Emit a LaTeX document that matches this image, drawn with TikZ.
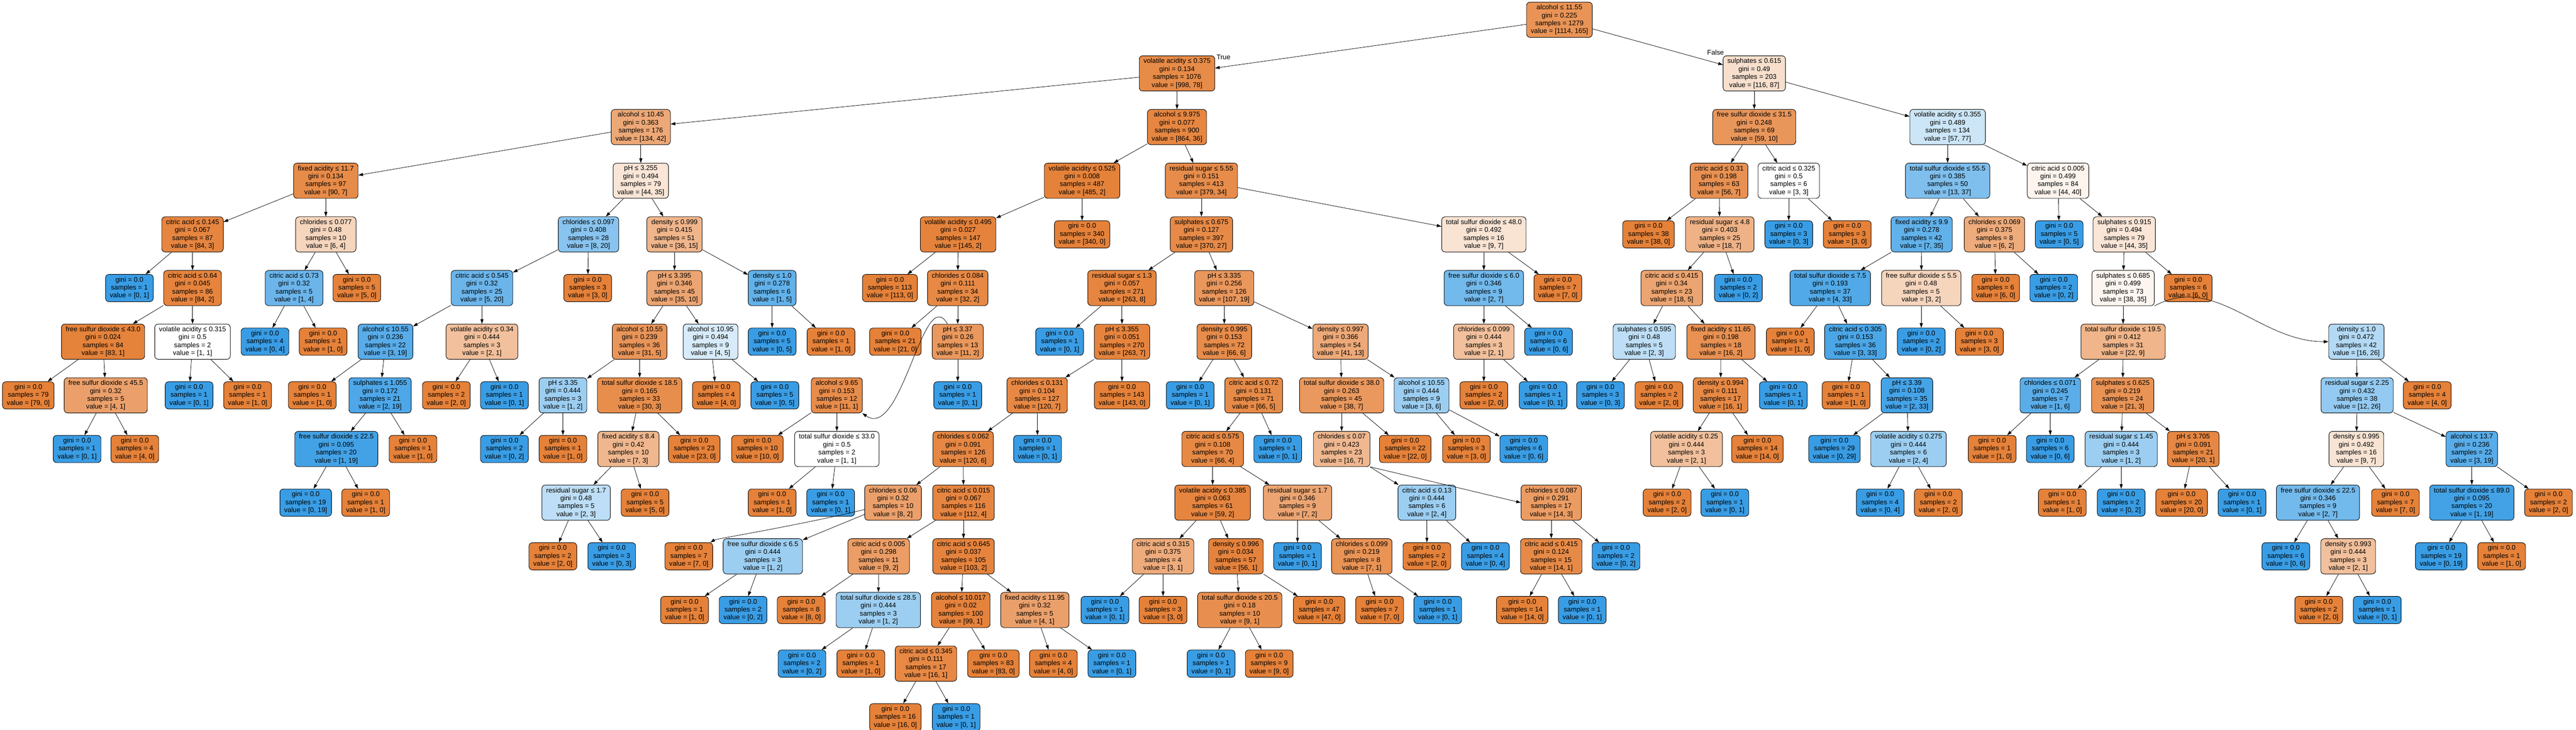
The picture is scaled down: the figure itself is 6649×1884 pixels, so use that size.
\documentclass[tikz,border=0pt]{standalone}
\usepackage{fontspec}
\setmainfont{Liberation Sans}
\usetikzlibrary{arrows.meta}
\definecolor{cO}{RGB}{229,129,57}
\definecolor{cB}{RGB}{57,157,229}
\tikzset{
  tn/.style={draw=black, line width=1.2pt, rounded corners=9pt, align=center,
    font=\fontsize{17.6}{20.5}\selectfont, inner xsep=11pt, inner ysep=6.5pt},
  ed/.style={draw=black, line width=1pt, -{Triangle[length=12pt,width=8pt]}},
  lab/.style={font=\fontsize{17.6}{20.5}\selectfont, inner sep=0pt}
}
\newcommand\setfill[2]{%
  \ifnum#1<#2\relax\def\cc{cB}\pgfmathsetmacro\al{100*(1-#1/#2)}%
  \else\def\cc{cO}\pgfmathsetmacro\al{100*(1-#2/#1)}\fi
  \colorlet{tmpfill}{\cc!\al!white}}
\newcommand\dn[8]{\setfill{#7}{#8}%
  \node[tn, fill=tmpfill] (#1) at (#2,{51+138.5*#3}) {#4\\gini = #5\\samples = #6\\value = [#7, #8]};}
\newcommand\lf[6]{\setfill{#5}{#6}%
  \node[tn, fill=tmpfill] (#1) at (#2,{51+138.5*#3}) {gini = 0.0\\samples = #4\\value = [#5, #6]};}
\begin{document}
\begin{tikzpicture}[x=1pt,y=-1pt]
\useasboundingbox (0,0) rectangle (6649,1884);
\fill[white] (0,0) rectangle (6649,1884);
% level 0
\dn{n0}{4025}{0}{alcohol ≤ 11.55}{0.225}{1279}{1114}{165}
% level 1
\dn{n1}{3038}{1}{volatile acidity ≤ 0.375}{0.134}{1076}{998}{78}
\dn{n2}{4528}{1}{sulphates ≤ 0.615}{0.49}{203}{116}{87}
% level 2
\dn{n3}{1654}{2}{alcohol ≤ 10.45}{0.363}{176}{134}{42}
\dn{n4}{3038}{2}{alcohol ≤ 9.975}{0.077}{900}{864}{36}
\dn{n5}{4528}{2}{free sulfur dioxide ≤ 31.5}{0.248}{69}{59}{10}
\dn{n6}{5027}{2}{volatile acidity ≤ 0.355}{0.489}{134}{57}{77}
% level 3
\dn{n7}{841}{3}{fixed acidity ≤ 11.7}{0.134}{97}{90}{7}
\dn{n8}{1654}{3}{pH ≤ 3.255}{0.494}{79}{44}{35}
\dn{n9}{2793}{3}{volatile acidity ≤ 0.525}{0.008}{487}{485}{2}
\dn{n10}{3101}{3}{residual sugar ≤ 5.55}{0.151}{413}{379}{34}
\dn{n11}{4437}{3}{citric acid ≤ 0.31}{0.198}{63}{56}{7}
\dn{n12}{4617}{3}{citric acid ≤ 0.325}{0.5}{6}{3}{3}
\dn{n13}{5027}{3}{total sulfur dioxide ≤ 55.5}{0.385}{50}{13}{37}
\dn{n14}{5312}{3}{citric acid ≤ 0.005}{0.499}{84}{44}{40}
% level 4
\dn{n15}{497}{4}{citric acid ≤ 0.145}{0.067}{87}{84}{3}
\dn{n16}{841}{4}{chlorides ≤ 0.077}{0.48}{10}{6}{4}
\dn{n17}{1519}{4}{chlorides ≤ 0.097}{0.408}{28}{8}{20}
\dn{n18}{1741}{4}{density ≤ 0.999}{0.415}{51}{36}{15}
\dn{n19}{2473}{4}{volatile acidity ≤ 0.495}{0.027}{147}{145}{2}
\lf{n20}{2793}{4}{340}{340}{0}
\dn{n21}{3101}{4}{sulphates ≤ 0.675}{0.127}{397}{370}{27}
\dn{n22}{3830}{4}{total sulfur dioxide ≤ 48.0}{0.492}{16}{9}{7}
\lf{n23}{4255}{4}{38}{38}{0}
\dn{n24}{4439}{4}{residual sugar ≤ 4.8}{0.403}{25}{18}{7}
\lf{n25}{4617}{4}{3}{0}{3}
\lf{n26}{4768}{4}{3}{3}{0}
\dn{n27}{4960}{4}{fixed acidity ≤ 9.9}{0.278}{42}{7}{35}
\dn{n28}{5148}{4}{chlorides ≤ 0.069}{0.375}{8}{6}{2}
\lf{n29}{5315}{4}{5}{0}{5}
\dn{n30}{5483}{4}{sulphates ≤ 0.915}{0.494}{79}{44}{35}
% level 5
\lf{n31}{334}{5}{1}{0}{1}
\dn{n32}{497}{5}{citric acid ≤ 0.64}{0.045}{86}{84}{2}
\dn{n33}{759}{5}{citric acid ≤ 0.73}{0.32}{5}{1}{4}
\lf{n34}{921}{5}{5}{5}{0}
\dn{n35}{1244}{5}{citric acid ≤ 0.545}{0.32}{25}{5}{20}
\lf{n36}{1517}{5}{3}{3}{0}
\dn{n37}{1741}{5}{pH ≤ 3.395}{0.346}{45}{35}{10}
\dn{n38}{1993}{5}{density ≤ 1.0}{0.278}{6}{1}{5}
\lf{n39}{2297}{5}{113}{113}{0}
\dn{n40}{2472}{5}{chlorides ≤ 0.084}{0.111}{34}{32}{2}
\dn{n41}{2896}{5}{residual sugar ≤ 1.3}{0.057}{271}{263}{8}
\dn{n42}{3160}{5}{pH ≤ 3.335}{0.256}{126}{107}{19}
\dn{n43}{3830}{5}{free sulfur dioxide ≤ 6.0}{0.346}{9}{2}{7}
\lf{n44}{4021}{5}{7}{7}{0}
\dn{n45}{4315}{5}{citric acid ≤ 0.415}{0.34}{23}{18}{5}
\lf{n46}{4487}{5}{2}{0}{2}
\dn{n47}{4724}{5}{total sulfur dioxide ≤ 7.5}{0.193}{37}{4}{33}
\dn{n48}{4959}{5}{free sulfur dioxide ≤ 5.5}{0.48}{5}{3}{2}
\lf{n49}{5151}{5}{6}{6}{0}
\lf{n50}{5301}{5}{2}{0}{2}
\dn{n51}{5480}{5}{sulphates ≤ 0.685}{0.499}{73}{38}{35}
\lf{n52}{5648}{5}{6}{6}{0}
% level 6
\dn{n53}{266}{6}{free sulfur dioxide ≤ 43.0}{0.024}{84}{83}{1}
\dn{n54}{497}{6}{volatile acidity ≤ 0.315}{0.5}{2}{1}{1}
\lf{n55}{684}{6}{4}{0}{4}
\lf{n56}{834}{6}{1}{1}{0}
\dn{n57}{995}{6}{alcohol ≤ 10.55}{0.236}{22}{3}{19}
\dn{n58}{1244}{6}{volatile acidity ≤ 0.34}{0.444}{3}{2}{1}
\dn{n59}{1651}{6}{alcohol ≤ 10.55}{0.239}{36}{31}{5}
\dn{n60}{1834}{6}{alcohol ≤ 10.95}{0.494}{9}{4}{5}
\lf{n61}{1993}{6}{5}{0}{5}
\lf{n62}{2145}{6}{1}{1}{0}
\lf{n63}{2311}{6}{21}{21}{0}
\dn{n64}{2472}{6}{pH ≤ 3.37}{0.26}{13}{11}{2}
\lf{n65}{2735}{6}{1}{0}{1}
\dn{n66}{2896}{6}{pH ≤ 3.355}{0.051}{270}{263}{7}
\dn{n67}{3160}{6}{density ≤ 0.995}{0.153}{72}{66}{6}
\dn{n68}{3460}{6}{density ≤ 0.997}{0.366}{54}{41}{13}
\dn{n69}{3830}{6}{chlorides ≤ 0.099}{0.444}{3}{2}{1}
\lf{n70}{3997}{6}{6}{0}{6}
\dn{n71}{4244}{6}{sulphates ≤ 0.595}{0.48}{5}{2}{3}
\dn{n72}{4442}{6}{fixed acidity ≤ 11.65}{0.198}{18}{16}{2}
\lf{n73}{4621}{6}{1}{1}{0}
\dn{n74}{4789}{6}{citric acid ≤ 0.305}{0.153}{36}{3}{33}
\lf{n75}{4959}{6}{2}{0}{2}
\lf{n76}{5109}{6}{3}{3}{0}
\dn{n77}{5480}{6}{total sulfur dioxide ≤ 19.5}{0.412}{31}{22}{9}
\dn{n78}{6082}{6}{density ≤ 1.0}{0.472}{42}{16}{26}
% level 7
\lf{n79}{73}{7}{79}{79}{0}
\dn{n80}{273}{7}{free sulfur dioxide ≤ 45.5}{0.32}{5}{4}{1}
\lf{n81}{488}{7}{1}{0}{1}
\lf{n82}{639}{7}{1}{1}{0}
\lf{n83}{806}{7}{1}{1}{0}
\dn{n84}{981}{7}{sulphates ≤ 1.055}{0.172}{21}{2}{19}
\lf{n85}{1152}{7}{2}{2}{0}
\lf{n86}{1302}{7}{1}{0}{1}
\dn{n87}{1453}{7}{pH ≤ 3.35}{0.444}{3}{1}{2}
\dn{n88}{1651}{7}{total sulfur dioxide ≤ 18.5}{0.165}{33}{30}{3}
\lf{n89}{1849}{7}{4}{4}{0}
\lf{n90}{2000}{7}{5}{0}{5}
\dn{n91}{2160}{7}{alcohol ≤ 9.65}{0.153}{12}{11}{1}
\lf{n92}{2472}{7}{1}{0}{1}
\dn{n93}{2677}{7}{chlorides ≤ 0.131}{0.104}{127}{120}{7}
\lf{n94}{2896}{7}{143}{143}{0}
\lf{n95}{3072}{7}{1}{0}{1}
\dn{n96}{3236}{7}{citric acid ≤ 0.72}{0.131}{71}{66}{5}
\dn{n97}{3463}{7}{total sulfur dioxide ≤ 38.0}{0.263}{45}{38}{7}
\dn{n98}{3669}{7}{alcohol ≤ 10.55}{0.444}{9}{3}{6}
\lf{n99}{3830}{7}{2}{2}{0}
\lf{n100}{3983}{7}{1}{0}{1}
\lf{n101}{4131}{7}{3}{0}{3}
\lf{n102}{4282}{7}{2}{2}{0}
\dn{n103}{4441}{7}{density ≤ 0.994}{0.111}{17}{16}{1}
\lf{n104}{4603}{7}{1}{0}{1}
\lf{n105}{4765}{7}{1}{1}{0}
\dn{n106}{4922}{7}{pH ≤ 3.39}{0.108}{35}{2}{33}
\dn{n107}{5292}{7}{chlorides ≤ 0.071}{0.245}{7}{1}{6}
\dn{n108}{5479}{7}{sulphates ≤ 0.625}{0.219}{24}{21}{3}
\dn{n109}{6084}{7}{residual sugar ≤ 2.25}{0.432}{38}{12}{26}
\lf{n110}{6265}{7}{4}{4}{0}
% level 8
\lf{n111}{199}{8}{1}{0}{1}
\lf{n112}{348}{8}{4}{4}{0}
\dn{n113}{868}{8}{free sulfur dioxide ≤ 22.5}{0.095}{20}{1}{19}
\lf{n114}{1066}{8}{1}{1}{0}
\lf{n115}{1302}{8}{2}{0}{2}
\lf{n116}{1453}{8}{1}{1}{0}
\dn{n117}{1622}{8}{fixed acidity ≤ 8.4}{0.42}{10}{7}{3}
\lf{n118}{1792}{8}{23}{23}{0}
\lf{n119}{1955}{8}{10}{10}{0}
\dn{n120}{2160}{8}{total sulfur dioxide ≤ 33.0}{0.5}{2}{1}{1}
\dn{n121}{2486}{8}{chlorides ≤ 0.062}{0.091}{126}{120}{6}
\lf{n122}{2678}{8}{1}{0}{1}
\dn{n123}{3130}{8}{citric acid ≤ 0.575}{0.108}{70}{66}{4}
\lf{n124}{3298}{8}{1}{0}{1}
\dn{n125}{3463}{8}{chlorides ≤ 0.07}{0.423}{23}{16}{7}
\lf{n126}{3627}{8}{22}{22}{0}
\lf{n127}{3785}{8}{3}{3}{0}
\lf{n128}{3933}{8}{6}{0}{6}
\dn{n129}{4353}{8}{volatile acidity ≤ 0.25}{0.444}{3}{2}{1}
\lf{n130}{4536}{8}{14}{14}{0}
\lf{n131}{4735}{8}{29}{0}{29}
\dn{n132}{4926}{8}{volatile acidity ≤ 0.275}{0.444}{6}{2}{4}
\lf{n133}{5142}{8}{1}{1}{0}
\lf{n134}{5292}{8}{6}{0}{6}
\dn{n135}{5475}{8}{residual sugar ≤ 1.45}{0.444}{3}{1}{2}
\dn{n136}{5661}{8}{pH ≤ 3.705}{0.091}{21}{20}{1}
\dn{n137}{6082}{8}{density ≤ 0.995}{0.492}{16}{9}{7}
\dn{n138}{6380}{8}{alcohol ≤ 13.7}{0.236}{22}{3}{19}
% level 9
\lf{n139}{789}{9}{19}{0}{19}
\lf{n140}{944}{9}{1}{1}{0}
\dn{n141}{1487}{9}{residual sugar ≤ 1.7}{0.48}{5}{2}{3}
\lf{n142}{1665}{9}{5}{5}{0}
\lf{n143}{1993}{9}{1}{1}{0}
\lf{n144}{2144}{9}{1}{0}{1}
\dn{n145}{2305}{9}{chlorides ≤ 0.06}{0.32}{10}{8}{2}
\dn{n146}{2487}{9}{citric acid ≤ 0.015}{0.067}{116}{112}{4}
\dn{n147}{3130}{9}{volatile acidity ≤ 0.385}{0.063}{61}{59}{2}
\dn{n148}{3349}{9}{residual sugar ≤ 1.7}{0.346}{9}{7}{2}
\dn{n149}{3683}{9}{citric acid ≤ 0.13}{0.444}{6}{2}{4}
\dn{n150}{4004}{9}{chlorides ≤ 0.087}{0.291}{17}{14}{3}
\lf{n151}{4303}{9}{2}{2}{0}
\lf{n152}{4452}{9}{1}{0}{1}
\lf{n153}{4853}{9}{4}{0}{4}
\lf{n154}{5003}{9}{2}{2}{0}
\lf{n155}{5323}{9}{1}{1}{0}
\lf{n156}{5475}{9}{2}{0}{2}
\lf{n157}{5631}{9}{20}{20}{0}
\lf{n158}{5787}{9}{1}{0}{1}
\dn{n159}{5983}{9}{free sulfur dioxide ≤ 22.5}{0.346}{9}{2}{7}
\lf{n160}{6183}{9}{7}{7}{0}
\dn{n161}{6380}{9}{total sulfur dioxide ≤ 89.0}{0.095}{20}{1}{19}
\lf{n162}{6578}{9}{2}{2}{0}
% level 10
\lf{n163}{1427}{10}{2}{2}{0}
\lf{n164}{1579}{10}{3}{0}{3}
\lf{n165}{1778}{10}{7}{7}{0}
\dn{n166}{1969}{10}{free sulfur dioxide ≤ 6.5}{0.444}{3}{1}{2}
\dn{n167}{2268}{10}{citric acid ≤ 0.005}{0.298}{11}{9}{2}
\dn{n168}{2487}{10}{citric acid ≤ 0.645}{0.037}{105}{103}{2}
\dn{n169}{3002}{10}{citric acid ≤ 0.315}{0.375}{4}{3}{1}
\dn{n170}{3190}{10}{density ≤ 0.996}{0.034}{57}{56}{1}
\lf{n171}{3349}{10}{1}{0}{1}
\dn{n172}{3515}{10}{chlorides ≤ 0.099}{0.219}{8}{7}{1}
\lf{n173}{3683}{10}{2}{2}{0}
\lf{n174}{3834}{10}{4}{0}{4}
\dn{n175}{4004}{10}{citric acid ≤ 0.415}{0.124}{15}{14}{1}
\lf{n176}{4171}{10}{2}{0}{2}
\lf{n177}{5900}{10}{6}{0}{6}
\dn{n178}{6061}{10}{density ≤ 0.993}{0.444}{3}{2}{1}
\lf{n179}{6301}{10}{19}{0}{19}
\lf{n180}{6457}{10}{1}{1}{0}
% level 11
\lf{n181}{1767}{11}{1}{1}{0}
\lf{n182}{1918}{11}{2}{0}{2}
\lf{n183}{2068}{11}{8}{8}{0}
\dn{n184}{2267}{11}{total sulfur dioxide ≤ 28.5}{0.444}{3}{1}{2}
\dn{n185}{2480}{11}{alcohol ≤ 10.017}{0.02}{100}{99}{1}
\dn{n186}{2671}{11}{fixed acidity ≤ 11.95}{0.32}{5}{4}{1}
\lf{n187}{2852}{11}{1}{0}{1}
\lf{n188}{3002}{11}{3}{3}{0}
\dn{n189}{3200}{11}{total sulfur dioxide ≤ 20.5}{0.18}{10}{9}{1}
\lf{n190}{3405}{11}{47}{47}{0}
\lf{n191}{3561}{11}{7}{7}{0}
\lf{n192}{3711}{11}{1}{0}{1}
\lf{n193}{3929}{11}{14}{14}{0}
\lf{n194}{4084}{11}{1}{0}{1}
\lf{n195}{5985}{11}{2}{2}{0}
\lf{n196}{6136}{11}{1}{0}{1}
% level 12
\lf{n197}{2070}{12}{2}{0}{2}
\lf{n198}{2222}{12}{1}{1}{0}
\dn{n199}{2390}{12}{citric acid ≤ 0.345}{0.111}{17}{16}{1}
\lf{n200}{2564}{12}{83}{83}{0}
\lf{n201}{2719}{12}{4}{4}{0}
\lf{n202}{2870}{12}{1}{0}{1}
\lf{n203}{3126}{12}{1}{0}{1}
\lf{n204}{3276}{12}{9}{9}{0}
% level 13
\lf{n205}{2311}{13}{16}{16}{0}
\lf{n206}{2468}{13}{1}{0}{1}
% edge labels
\node[lab] (tT) at (3158,147) {True};
\node[lab] (tF) at (4428,135) {False};
% edges
\foreach \a/\b in {n0/n1,n0/n2,n1/n3,n1/n4,n2/n5,n2/n6,n3/n7,n3/n8,n4/n9,n4/n10,
 n5/n11,n5/n12,n6/n13,n6/n14,n7/n15,n7/n16,n8/n17,n8/n18,n9/n19,n9/n20,n10/n21,n10/n22,
 n11/n23,n11/n24,n12/n25,n12/n26,n13/n27,n13/n28,n14/n29,n14/n30,n15/n31,n15/n32,
 n16/n33,n16/n34,n17/n35,n17/n36,n18/n37,n18/n38,n19/n39,n19/n40,n21/n41,n21/n42,
 n22/n43,n22/n44,n24/n45,n24/n46,n27/n47,n27/n48,n28/n49,n28/n50,n30/n51,n30/n52,
 n32/n53,n32/n54,n33/n55,n33/n56,n35/n57,n35/n58,n37/n59,n37/n60,n38/n61,n38/n62,
 n40/n63,n40/n64,n41/n65,n41/n66,n42/n67,n42/n68,n43/n69,n43/n70,n45/n71,n45/n72,
 n47/n73,n47/n74,n48/n75,n48/n76,n51/n77,n53/n79,n53/n80,n54/n81,n54/n82,
 n57/n83,n57/n84,n58/n85,n58/n86,n59/n87,n59/n88,n60/n89,n60/n90,n64/n92,
 n66/n93,n66/n94,n67/n95,n67/n96,n68/n97,n68/n98,n69/n99,n69/n100,n71/n101,n71/n102,
 n72/n103,n72/n104,n74/n105,n74/n106,n77/n107,n77/n108,n78/n109,n78/n110,
 n80/n111,n80/n112,n84/n113,n84/n114,n87/n115,n87/n116,n88/n117,n88/n118,
 n91/n119,n91/n120,n93/n121,n93/n122,n96/n123,n96/n124,n97/n125,n97/n126,
 n98/n127,n98/n128,n103/n129,n103/n130,n106/n131,n106/n132,n107/n133,n107/n134,
 n108/n135,n108/n136,n109/n137,n109/n138,n113/n139,n113/n140,n117/n141,n117/n142,
 n120/n143,n120/n144,n121/n145,n121/n146,n123/n147,n123/n148,n125/n149,
 n129/n151,n129/n152,n132/n153,n132/n154,n135/n155,n135/n156,n136/n157,n136/n158,
 n137/n159,n137/n160,n138/n161,n138/n162,n141/n163,n141/n164,n145/n166,
 n146/n167,n146/n168,n147/n169,n147/n170,n148/n171,n148/n172,n149/n173,n149/n174,
 n150/n175,n150/n176,n159/n177,n159/n178,n161/n179,n161/n180,n166/n181,n166/n182,
 n167/n183,n167/n184,n168/n185,n168/n186,n169/n187,n169/n188,n170/n189,n170/n190,
 n172/n191,n172/n192,n175/n193,n175/n194,n178/n195,n178/n196,n184/n197,n184/n198,
 n185/n199,n185/n200,n186/n201,n186/n202,n189/n203,n189/n204,n199/n205,n199/n206}
 {\draw[ed] (\a) -- (\b);}
% curved / special edges (y axis points down: positive angles point downwards)
\draw[ed] (n51.south east) to[out=28,in=180] (n78.west);
\draw[ed] (n64) to[out=120,in=-35] (n91);
\draw[ed] (n125.south east) -- (n150.west);
\draw[ed] (n145) .. controls +(-250,60) and +(70,-45) .. (n165);
\end{tikzpicture}
\end{document}
